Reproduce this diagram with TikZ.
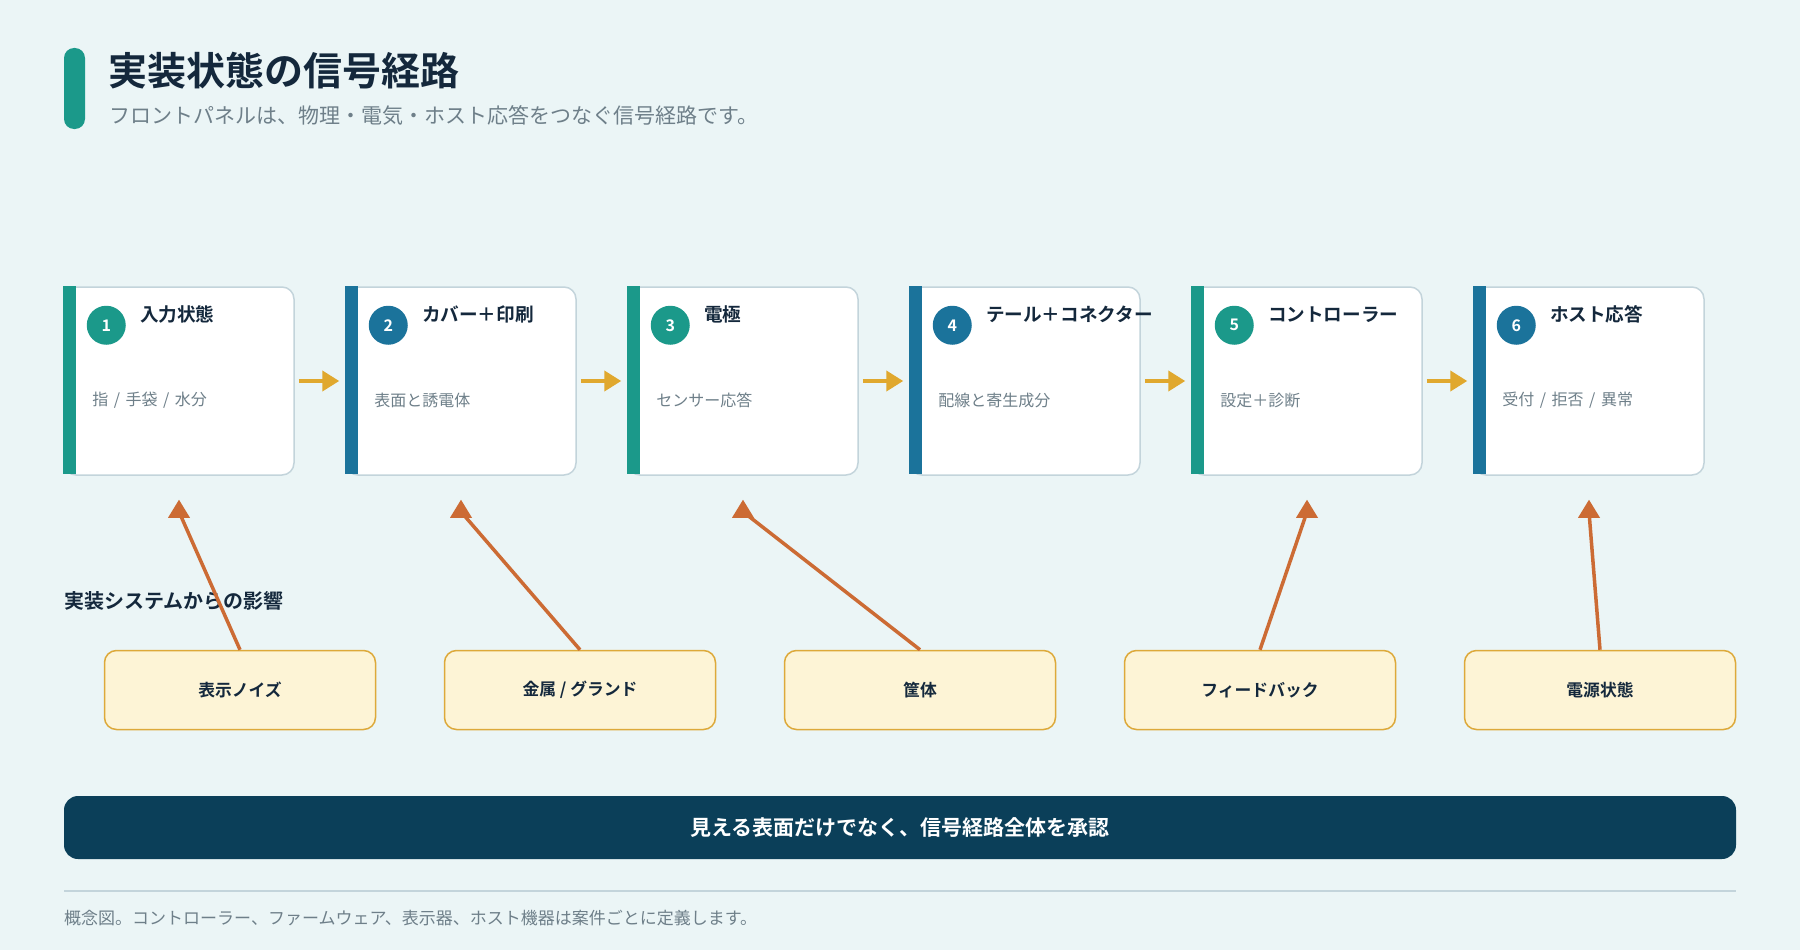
\documentclass[tikz,border=0pt]{standalone}
\usepackage{fontspec}
\setmainfont{Noto Sans CJK JP}[BoldFont={Noto Sans CJK JP Bold}]
\usetikzlibrary{arrows.meta,positioning}
\definecolor{bgc}{HTML}{EBF5F6}
\definecolor{tealc}{HTML}{1B998A}
\definecolor{bluec}{HTML}{1B739B}
\definecolor{ink}{HTML}{14283C}
\definecolor{mute}{HTML}{6E7F89}
\definecolor{cardline}{HTML}{C3D4DB}
\definecolor{flowc}{HTML}{E0A82E}
\definecolor{inflc}{HTML}{CC6B34}
\definecolor{boxfill}{HTML}{FDF4D6}
\definecolor{boxline}{HTML}{DDA93A}
\definecolor{navy}{HTML}{0B3F59}

\begin{document}
\begin{tikzpicture}[x=1pt,y=-1pt,
    card/.style={draw=cardline,line width=1.5pt,fill=white,rounded corners=12pt,
        minimum width=230pt,minimum height=188pt,inner sep=0pt},
    badge/.style={circle,minimum size=39pt,inner sep=0pt,text=white,
        font=\fontsize{16}{18}\selectfont\bfseries},
    ctitle/.style={anchor=west,inner sep=0pt,text=ink,font=\fontsize{18.6}{21}\selectfont\bfseries},
    cdesc/.style={anchor=west,inner sep=0pt,text=mute,font={\fontsize{16}{19}\selectfont\spaceskip=5.5pt}},
    flow/.style={draw=flowc,line width=4pt,-{Triangle[length=17pt,width=20pt]}},
    infl/.style={draw=inflc,line width=3.5pt},
    inflbox/.style={draw=boxline,line width=1.5pt,fill=boxfill,rounded corners=12pt,
        minimum width=271pt,minimum height=79pt,text=ink,font=\fontsize{16.8}{19}\selectfont\bfseries},
    banner/.style={fill=navy,rounded corners=14pt,minimum width=1672pt,minimum height=63pt,
        text=white,font=\fontsize{21}{24}\selectfont\bfseries}]
    \fill[bgc] (0,0) rectangle (1800,950);
    \useasboundingbox (0,0) rectangle (1800,950);

    % header
    \fill[tealc,rounded corners=10pt] (64,48) rectangle (85,129);
    \node[anchor=west,inner sep=0pt,text=ink,font=\fontsize{39}{44}\selectfont\bfseries] (ttl) at (108,71) {実装状態の信号経路};
    \node[anchor=west,inner sep=0pt,text=mute,font=\fontsize{21}{24}\selectfont] (sub) at (109,115) {フロントパネルは、物理・電気・ホスト応答をつなぐ信号経路です。};

    % signal path cards
    \node[card] (c1) at (179,381) {};
    \node[card] (c2) at (461,381) {};
    \node[card] (c3) at (743,381) {};
    \node[card] (c4) at (1025,381) {};
    \node[card] (c5) at (1307,381) {};
    \node[card] (c6) at (1589,381) {};
    \fill[tealc] (c1.north west) rectangle ++(13,188);
    \fill[bluec] (c2.north west) rectangle ++(13,188);
    \fill[tealc] (c3.north west) rectangle ++(13,188);
    \fill[bluec] (c4.north west) rectangle ++(13,188);
    \fill[tealc] (c5.north west) rectangle ++(13,188);
    \fill[bluec] (c6.north west) rectangle ++(13,188);

    \node[badge,fill=tealc] (n1) at ([shift={(43,39)}]c1.north west) {1};
    \node[badge,fill=bluec] (n2) at ([shift={(43,39)}]c2.north west) {2};
    \node[badge,fill=tealc] (n3) at ([shift={(43,39)}]c3.north west) {3};
    \node[badge,fill=bluec] (n4) at ([shift={(43,39)}]c4.north west) {4};
    \node[badge,fill=tealc] (n5) at ([shift={(43,39)}]c5.north west) {5};
    \node[badge,fill=bluec] (n6) at ([shift={(43,39)}]c6.north west) {6};

    \node[ctitle,right=14pt of n1.east,yshift=11pt] (t1) {入力状態};
    \node[ctitle,right=14pt of n2.east,yshift=11pt] (t2) {カバー＋印刷};
    \node[ctitle,right=14pt of n3.east,yshift=11pt] (t3) {電極};
    \node[ctitle,right=14pt of n4.east,yshift=11pt] (t4) {テール＋コネクター};
    \node[ctitle,right=14pt of n5.east,yshift=11pt] (t5) {コントローラー};
    \node[ctitle,right=14pt of n6.east,yshift=11pt] (t6) {ホスト応答};

    \node[cdesc] (d1) at ([shift={(29,114)}]c1.north west) {指 / 手袋 / 水分};
    \node[cdesc] (d2) at ([shift={(29,114)}]c2.north west) {表面と誘電体};
    \node[cdesc] (d3) at ([shift={(29,114)}]c3.north west) {センサー応答};
    \node[cdesc] (d4) at ([shift={(29,114)}]c4.north west) {配線と寄生成分};
    \node[cdesc] (d5) at ([shift={(29,114)}]c5.north west) {設定＋診断};
    \node[cdesc] (d6) at ([shift={(29,114)}]c6.north west) {受付 / 拒否 / 異常};

    \draw[flow] ([xshift=4pt]c1.east) -- ([xshift=-6pt]c2.west);
    \draw[flow] ([xshift=4pt]c2.east) -- ([xshift=-6pt]c3.west);
    \draw[flow] ([xshift=4pt]c3.east) -- ([xshift=-6pt]c4.west);
    \draw[flow] ([xshift=4pt]c4.east) -- ([xshift=-6pt]c5.west);
    \draw[flow] ([xshift=4pt]c5.east) -- ([xshift=-6pt]c6.west);

    % influences
    \node[anchor=west,inner sep=0pt,text=ink,font=\fontsize{20}{23}\selectfont\bfseries] (lbl) at (64,601) {実装システムからの影響};

    \node[inflbox] (b1) at (240,690) {表示ノイズ};
    \node[inflbox] (b2) at (580,690) {金属 / グランド};
    \node[inflbox] (b3) at (920,690) {筐体};
    \node[inflbox] (b4) at (1260,690) {フィードバック};
    \node[inflbox] (b5) at (1600,690) {電源状態};

    \coordinate (a1) at ([yshift=-24pt]c1.south);
    \coordinate (a2) at ([yshift=-24pt]c2.south);
    \coordinate (a3) at ([yshift=-24pt]c3.south);
    \coordinate (a5) at ([yshift=-24pt]c5.south);
    \coordinate (a6) at ([yshift=-24pt]c6.south);
    \draw[infl] (b1.north) -- ([yshift=-12pt]a1);
    \draw[infl] (b2.north) -- ([yshift=-12pt]a2);
    \draw[infl] (b3.north) -- ([yshift=-12pt]a3);
    \draw[infl] (b4.north) -- ([yshift=-12pt]a5);
    \draw[infl] (b5.north) -- ([yshift=-12pt]a6);
    \fill[inflc] (a1) -- ++(-11,18) -- ++(22,0) -- cycle;
    \fill[inflc] (a2) -- ++(-11,18) -- ++(22,0) -- cycle;
    \fill[inflc] (a3) -- ++(-11,18) -- ++(22,0) -- cycle;
    \fill[inflc] (a5) -- ++(-11,18) -- ++(22,0) -- cycle;
    \fill[inflc] (a6) -- ++(-11,18) -- ++(22,0) -- cycle;

    % footer
    \node[banner] (bn) at (900,827.5) {見える表面だけでなく、信号経路全体を承認};
    \draw[cardline,line width=2pt] (64,891) -- (1736,891);
    \node[anchor=west,inner sep=0pt,text=mute,font=\fontsize{17}{20}\selectfont] (note) at (64,918) {概念図。コントローラー、ファームウェア、表示器、ホスト機器は案件ごとに定義します。};
\end{tikzpicture}
\end{document}
